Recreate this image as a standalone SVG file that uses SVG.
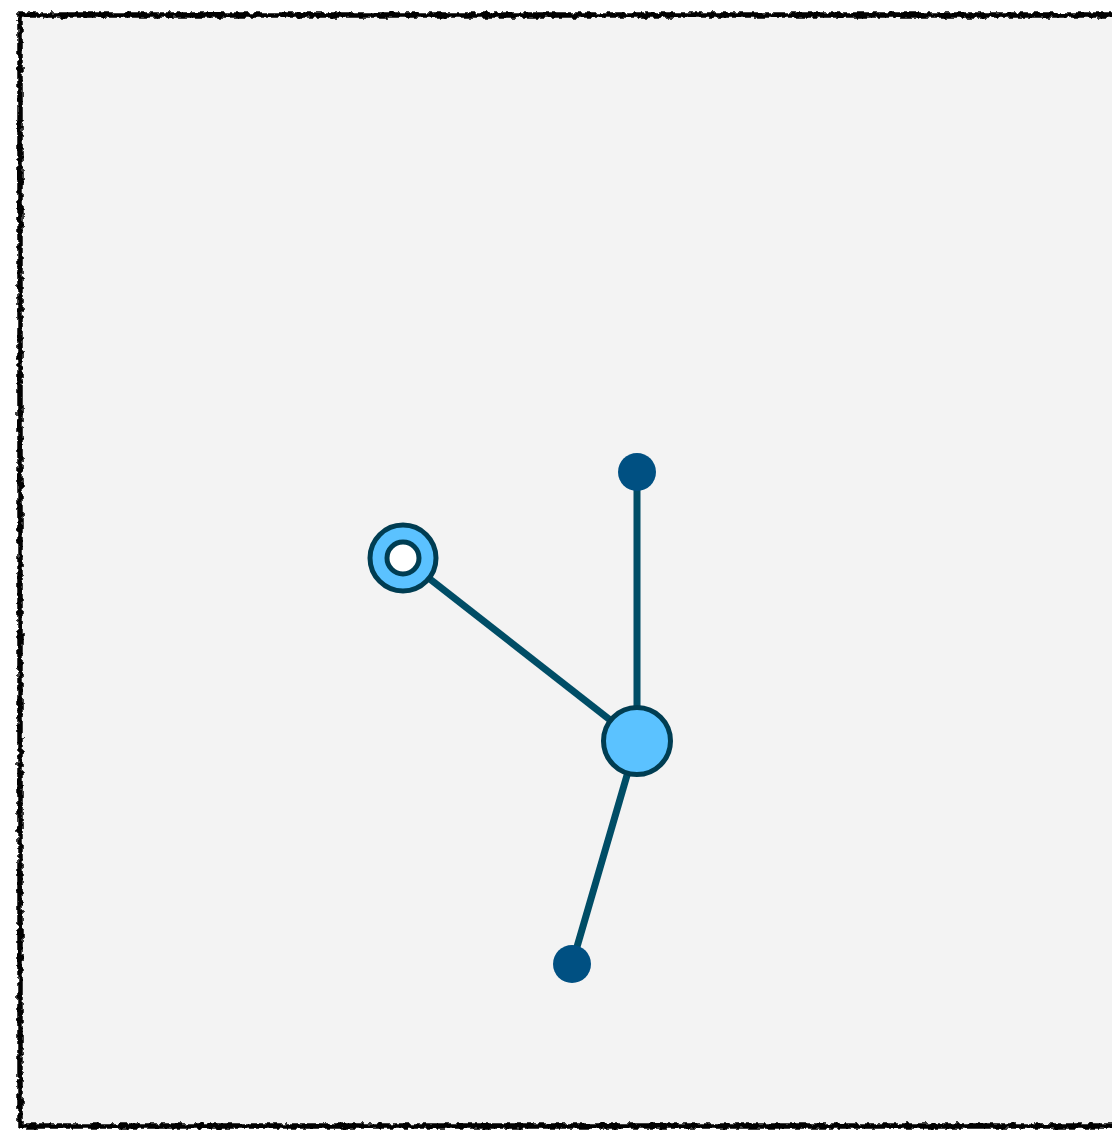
<svg xmlns="http://www.w3.org/2000/svg" width="1112" height="1130" viewBox="0 0 1112 1130">
  <defs>
    <filter id="rough" x="-5%" y="-5%" width="110%" height="110%">
      <feTurbulence type="fractalNoise" baseFrequency="0.18" numOctaves="2" seed="3" result="n"/>
      <feDisplacementMap in="SourceGraphic" in2="n" scale="6" xChannelSelector="R" yChannelSelector="G"/>
    </filter>
    <style>
      .edge { stroke: #004D66; stroke-width: 7; fill: none; }
      .hub { fill: #5BC2FF; stroke: #003D52; stroke-width: 5; }
      .leaf { fill: #005082; }
      .inner { fill: #FFFFFF; stroke: #003D52; stroke-width: 5; }
    </style>
  </defs>
  <rect x="0" y="0" width="1112" height="1130" fill="#FFFFFF"/>
  <g id="frame">
    <rect x="20" y="15" width="1110" height="1111" fill="#F3F3F3"/>
    <rect x="20" y="15" width="1110" height="1111" fill="none" stroke="#000" stroke-width="5.5" filter="url(#rough)"/>
  </g>
  <g id="connectors">
    <line class="edge" x1="637" y1="472" x2="637" y2="741"/>
    <line class="edge" x1="403" y1="558" x2="637" y2="741"/>
    <line class="edge" x1="572" y1="964" x2="637" y2="741"/>
  </g>
  <g id="node-ring">
    <circle class="hub" cx="403" cy="558" r="33"/>
    <circle class="inner" cx="403" cy="558" r="16"/>
  </g>
  <g id="node-hub">
    <circle class="hub" cx="637" cy="741" r="33.5"/>
  </g>
  <g id="node-top">
    <circle class="leaf" cx="637" cy="472" r="19"/>
  </g>
  <g id="node-bottom">
    <circle class="leaf" cx="572" cy="964" r="19"/>
  </g>
</svg>
